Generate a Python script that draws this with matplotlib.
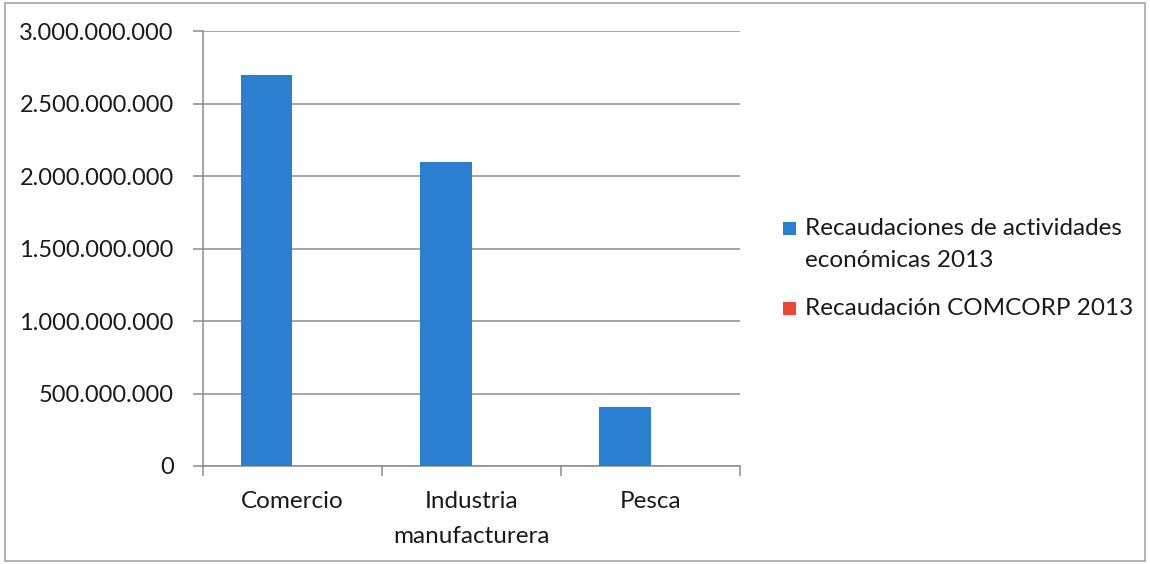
import matplotlib
matplotlib.use("Agg")
import matplotlib.pyplot as plt
from matplotlib.patches import Rectangle
from matplotlib.ticker import FuncFormatter
import numpy as np

categories = ["Comercio", "Industria\nmanufacturera", "Pesca"]
actividades_2013 = [2_700_000_000, 2_100_000_000, 407_000_000]
comcorp_2013 = [3_000_000, 2_000_000, 500_000]
series_names = ["Recaudaciones de actividades\neconómicas 2013", "Recaudación COMCORP 2013"]
y_ticks = [0, 500_000_000, 1_000_000_000, 1_500_000_000, 2_000_000_000, 2_500_000_000, 3_000_000_000]

BLUE = "#2A7FD0"
RED = "#EE4534"
GRID = "#8C8C8C"
TEXT = "#1a1a1a"

plt.rcParams["font.family"] = ["Lato", "DejaVu Sans"]

W, H = 1150, 564
fig = plt.figure(figsize=(W / 100, H / 100), dpi=100)
ax = fig.add_axes([0.1765, 0.1738, 0.467, 0.771])

x = np.arange(len(categories))
w = 1 / 3.5
bars_a = ax.bar(x - w / 2, actividades_2013, width=w, color=BLUE, label=series_names[0], zorder=3)
bars_b = ax.bar(x + w / 2, comcorp_2013, width=w, color=RED, label=series_names[1], zorder=3)

ax.set_xlim(-0.5, len(categories) - 0.5)
ax.set_ylim(0, 3_000_000_000)
ax.set_yticks(y_ticks)
ax.yaxis.set_major_formatter(FuncFormatter(lambda v, _: f"{int(v):,}".replace(",", ".")))
ax.grid(axis="y", color=GRID, linewidth=1.1, zorder=0)

ax.set_xticks(x)
ax.set_xticklabels(categories, fontsize=17.5, color=TEXT, linespacing=1.8)
ax.set_xticks(np.arange(-0.5, len(categories), 1), minor=True)
ax.tick_params(axis="x", which="major", length=0, pad=18)
ax.tick_params(axis="x", which="minor", length=7, color=GRID, width=1.1)
ax.tick_params(axis="y", length=7, color=GRID, width=1.1, labelsize=17, labelcolor=TEXT, pad=14)

for side in ["top", "right"]:
    ax.spines[side].set_visible(False)
for side in ["left", "bottom"]:
    ax.spines[side].set_color(GRID)
    ax.spines[side].set_linewidth(1.1)

# Legend: square swatch sitting on the baseline of each entry's first line
def px(xp, yp):
    return xp / W, 1 - yp / H

legend_rows = [
    (bars_a.patches[0].get_facecolor(), series_names[0], 235),
    (bars_b.patches[0].get_facecolor(), series_names[1], 315),
]
line_step = 32
for color, label, baseline in legend_rows:
    sx, sy = px(783, baseline)
    fig.patches.append(Rectangle((sx, sy), 13 / W, 13 / H, transform=fig.transFigure,
                                 facecolor=color, edgecolor="none"))
    for i, line in enumerate(label.split("\n")):
        tx, ty = px(805, baseline + i * line_step)
        fig.text(tx, ty, line, fontsize=17.5, color=TEXT, va="baseline", ha="left")

fig.patches.append(Rectangle((0.004, 0.006), 0.992, 0.988, transform=fig.transFigure,
                             fill=False, edgecolor="#a5a5a5", linewidth=1.2))

fig.savefig("out.png", dpi=100, facecolor="white")
